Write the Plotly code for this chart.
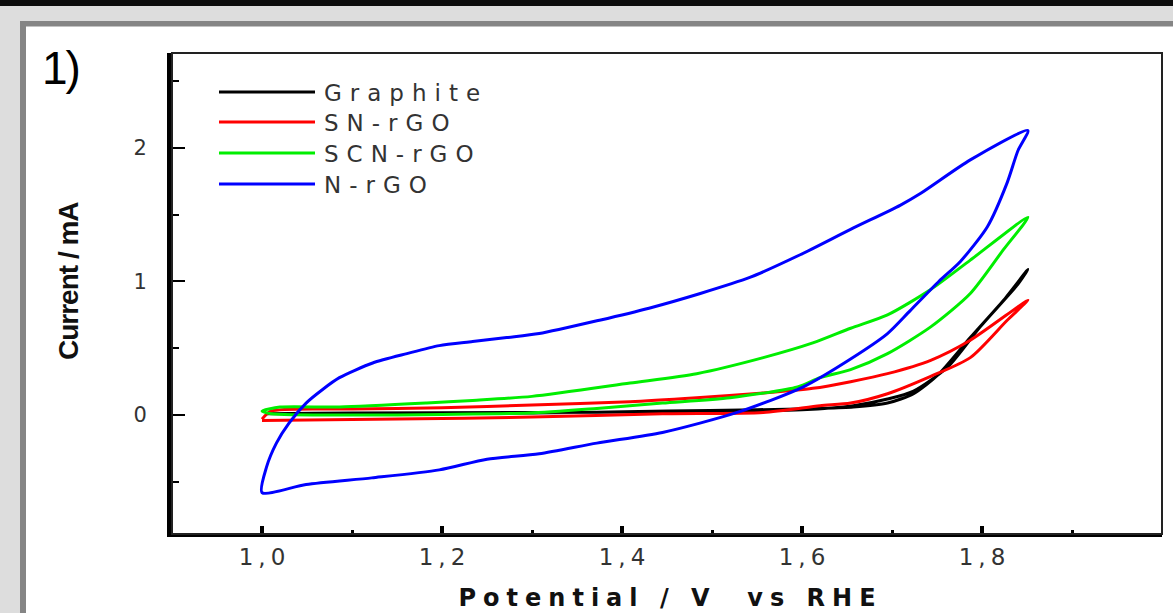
import plotly.graph_objects as go
import json

# ---------------- data ----------------
series_names = ["Graphite", "SN-rGO", "SCN-rGO", "N-rGO"]
series_colors = ["#000000", "#ff0000", "#00ee00", "#0000ff"]

graphite_potential = [1.005, 1.100, 1.300, 1.450, 1.550, 1.620, 1.657, 1.695, 1.724, 1.751, 1.787, 1.824, 1.851,
                      1.840, 1.798, 1.762, 1.724, 1.695, 1.657, 1.600, 1.450, 1.300, 1.100, 1.005]
graphite_current = [0.010, 0.015, 0.015, 0.030, 0.040, 0.050, 0.060, 0.090, 0.160, 0.300, 0.580, 0.860, 1.090,
                    0.980, 0.660, 0.360, 0.180, 0.120, 0.070, 0.040, 0.025, 0.020, 0.015, 0.010]

snrgo_potential = [1.000, 1.010, 1.100, 1.200, 1.300, 1.409, 1.483, 1.557, 1.612, 1.654, 1.695, 1.743, 1.787, 1.851,
                   1.828, 1.787, 1.743, 1.695, 1.654, 1.620, 1.557, 1.445, 1.300, 1.150, 1.000]
snrgo_current = [-0.030, 0.030, 0.045, 0.055, 0.075, 0.100, 0.130, 0.165, 0.200, 0.250, 0.310, 0.410, 0.560, 0.860,
                 0.710, 0.430, 0.290, 0.160, 0.090, 0.070, 0.020, 0.010, -0.015, -0.030, -0.040]

scnrgo_potential = [1.000, 1.020, 1.086, 1.183, 1.234, 1.300, 1.409, 1.483, 1.557, 1.612, 1.654, 1.695, 1.743, 1.787, 1.851,
                    1.824, 1.787, 1.743, 1.695, 1.654, 1.620, 1.595, 1.520, 1.445, 1.372, 1.297, 1.200, 1.100, 1.010, 1.000]
scnrgo_current = [0.030, 0.060, 0.060, 0.090, 0.110, 0.140, 0.240, 0.310, 0.430, 0.540, 0.650, 0.750, 0.940, 1.160, 1.480,
                  1.240, 0.910, 0.660, 0.460, 0.340, 0.280, 0.210, 0.130, 0.090, 0.050, 0.015, 0.005, 0.000, 0.010, 0.030]

nrgo_potential = [1.000, 1.005, 1.016, 1.030, 1.049, 1.067, 1.086, 1.123, 1.161, 1.197, 1.234, 1.272, 1.308, 1.375,
                  1.430, 1.487, 1.542, 1.598, 1.654, 1.709, 1.732, 1.787, 1.851,
                  1.840, 1.828, 1.806, 1.776, 1.752, 1.720, 1.695, 1.654, 1.601, 1.528, 1.445, 1.372, 1.308, 1.250,
                  1.197, 1.122, 1.049, 1.000]
nrgo_current = [-0.580, -0.390, -0.210, -0.060, 0.090, 0.190, 0.280, 0.390, 0.460, 0.520, 0.550, 0.580, 0.610, 0.710,
                0.800, 0.910, 1.030, 1.200, 1.390, 1.570, 1.660, 1.910, 2.130,
                1.980, 1.740, 1.410, 1.150, 1.000, 0.780, 0.610, 0.420, 0.210, 0.020, -0.130, -0.210, -0.290, -0.330,
                -0.410, -0.470, -0.520, -0.580]

x_tick_values = [1.0, 1.2, 1.4, 1.6, 1.8]
y_tick_values = [0, 1, 2]

x_title = "Potential / V  vs RHE"
y_title = "Current / mA"
panel_label = "1)"

# ---------------- figure ----------------
W, H = 1173, 613
ML, MR, MT, MB = 172, 11, 53, 79
PW, PH = W - ML - MR, H - MT - MB


def px_x(px):
    return (px - ML) / PW


def px_y(py):
    return (H - MB - py) / PH


fig = go.Figure()
all_series = [
    (graphite_potential, graphite_current),
    (snrgo_potential, snrgo_current),
    (scnrgo_potential, scnrgo_current),
    (nrgo_potential, nrgo_current),
]
for name, color, (xs, ys) in zip(series_names, series_colors, all_series):
    fig.add_trace(go.Scatter(x=xs, y=ys, mode="lines", name=name,
                             line=dict(color=color, width=3, shape="spline", smoothing=0.7),
                             showlegend=False, hoverinfo="skip"))

shapes = []
# outer frame decoration
shapes.append(dict(type="rect", xref="paper", yref="paper", x0=px_x(0), x1=px_x(W), y0=px_y(0), y1=px_y(22),
                   fillcolor="#dddddd", line=dict(width=0), layer="below"))
shapes.append(dict(type="rect", xref="paper", yref="paper", x0=px_x(0), x1=px_x(21), y0=px_y(0), y1=px_y(H),
                   fillcolor="#dddddd", line=dict(width=0), layer="below"))
shapes.append(dict(type="rect", xref="paper", yref="paper", x0=px_x(0), x1=px_x(W), y0=px_y(0), y1=px_y(6),
                   fillcolor="#0d0d0d", line=dict(width=0), layer="below"))
shapes.append(dict(type="rect", xref="paper", yref="paper", x0=px_x(20), x1=px_x(W), y0=px_y(21), y1=px_y(26.5),
                   fillcolor="#858585", line=dict(width=0), layer="below"))
shapes.append(dict(type="rect", xref="paper", yref="paper", x0=px_x(20), x1=px_x(26), y0=px_y(21), y1=px_y(H),
                   fillcolor="#858585", line=dict(width=0), layer="below"))
# thin box (top/right)
shapes.append(dict(type="rect", xref="paper", yref="paper", x0=0, x1=1, y0=0, y1=1,
                   line=dict(color="#222222", width=2), layer="above"))

annotations = []
letter_spacing = []

# manual legend
legend_rows = [92, 122, 153, 184]
for name, color, row in zip(series_names, series_colors, legend_rows):
    shapes.append(dict(type="line", xref="paper", yref="paper", x0=px_x(219), x1=px_x(315),
                       y0=px_y(row), y1=px_y(row), line=dict(color=color, width=3)))
    annotations.append(dict(text=name, xref="paper", yref="paper", x=px_x(322), y=px_y(row + 1),
                            xanchor="left", yanchor="middle", align="left", showarrow=False,
                            font=dict(family="DejaVu Sans", size=23, color="#333333")))
    letter_spacing.append(8)

annotations.append(dict(text=x_title, xref="paper", yref="paper", x=px_x(670), y=px_y(598),
                        xanchor="center", yanchor="middle", showarrow=False,
                        font=dict(family="DejaVu Sans", size=24, color="#111111", weight="bold")))
letter_spacing.append(7)
annotations.append(dict(text=y_title, xref="paper", yref="paper", x=px_x(68), y=px_y(281),
                        xanchor="center", yanchor="middle", showarrow=False, textangle=-90,
                        font=dict(family="Liberation Sans", size=28, color="#111111", weight="bold")))
letter_spacing.append(-1)
annotations.append(dict(text=panel_label, xref="paper", yref="paper", x=px_x(38), y=px_y(68),
                        xanchor="left", yanchor="middle", showarrow=False,
                        font=dict(family="Liberation Sans", size=46, color="#000000")))
letter_spacing.append(-2)

fig.update_layout(
    width=W, height=H,
    margin=dict(l=ML, r=MR, t=MT, b=MB, pad=0),
    paper_bgcolor="#ffffff", plot_bgcolor="#ffffff",
    separators=",.",
    showlegend=False,
    hovermode=False,
    shapes=shapes,
    annotations=annotations,
)
fig.update_xaxes(
    range=[0.9, 2.0], tickmode="array", tickvals=x_tick_values, tickformat=".1f",
    showgrid=False, zeroline=False, showline=True, linecolor="#000000", linewidth=3, mirror=False,
    ticks="inside", ticklen=8, tickwidth=4, tickcolor="#000000",
    ticklabelstandoff=0,
    tickfont=dict(family="DejaVu Sans", size=23, color="#333333"),
    minor=dict(ticks="inside", dtick=0.1, tick0=0.9, ticklen=4, tickwidth=3, tickcolor="#000000", showgrid=False),
)
fig.update_yaxes(
    range=[-0.89, 2.71], tickmode="array", tickvals=y_tick_values,
    showgrid=False, zeroline=False, showline=True, linecolor="#000000", linewidth=5, mirror=False,
    ticks="inside", ticklen=13, tickwidth=2, tickcolor="#000000",
    ticklabelstandoff=16,
    tickfont=dict(family="DejaVu Sans", size=21, color="#333333"),
    minor=dict(ticks="inside", dtick=0.5, tick0=0, ticklen=7, tickwidth=2, tickcolor="#000000", showgrid=False),
)

post = """
document.body.style.margin = '0';
document.body.style.overflow = 'hidden';
var sp = %s;
document.querySelectorAll('.xtick text').forEach(function(t){ t.style.letterSpacing='5px'; t.setAttribute('dx','2.5'); });
document.querySelectorAll('g.annotation').forEach(function(g){
  var i = parseInt(g.getAttribute('data-index'));
  var t = g.querySelector('text');
  if (t && !isNaN(i) && sp[i] !== undefined) { t.style.letterSpacing = sp[i] + 'px'; }
});
""" % json.dumps(letter_spacing)

fig.write_html("out.html", post_script=post, config={"displayModeBar": False, "staticPlot": True})
